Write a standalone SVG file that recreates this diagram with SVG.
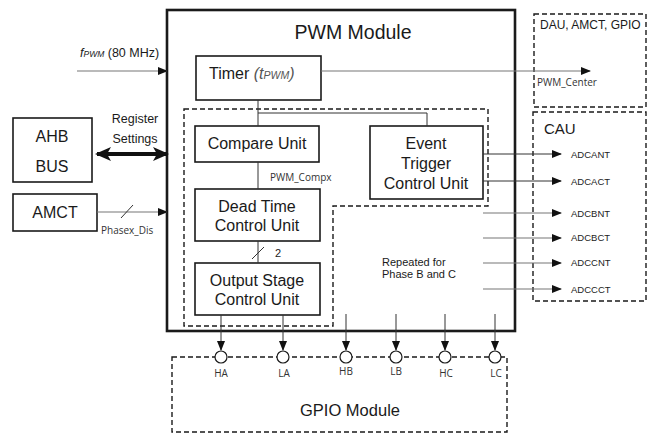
<svg xmlns="http://www.w3.org/2000/svg" width="649" height="433" viewBox="0 0 649 433">
<style>
.box{fill:#fff;stroke:#1a1a1a;stroke-width:1.6}
.dash{fill:none;stroke:#1a1a1a;stroke-width:1.4;stroke-dasharray:5,3}
.ln{fill:none;stroke:#333;stroke-width:1}
.gl{fill:none;stroke:#777;stroke-width:1.2}
.t{font-family:"Liberation Sans",Arial,sans-serif;fill:#1a1a1a}
.big{font-size:16px;text-anchor:middle}
.sm{font-family:"Open Sans","Liberation Sans",sans-serif;font-size:10px;fill:#333}
.cau{font-family:"Liberation Sans",Arial,sans-serif;font-size:9.5px;fill:#222}
</style>
<defs>
<marker id="ah" markerWidth="10" markerHeight="8" refX="9" refY="4" orient="auto" markerUnits="userSpaceOnUse">
<path d="M0,0 L10,4 L0,8 Z" fill="#111"/>
</marker>
<marker id="big" markerWidth="16" markerHeight="14" refX="14" refY="7" orient="auto-start-reverse" markerUnits="userSpaceOnUse">
<path d="M0,0 L16,7 L0,14 L4,7 Z" fill="#111"/>
</marker>
</defs>

<g id="pwm-module">
<rect x="167" y="10" width="348" height="321" fill="#fff" stroke="#1a1a1a" stroke-width="2.6"/>
<text class="t" x="353" y="39" font-size="19.5" text-anchor="middle">PWM Module</text>
</g>

<g id="inner-region">
<path class="dash" d="M184,109 H488 V206 H333 V326 H184 Z"/>
</g>

<g id="dau">
<rect class="dash" x="534" y="14" width="112" height="93"/>
<text class="t" x="540" y="29" font-size="12">DAU, AMCT, GPIO</text>
</g>

<g id="cau">
<rect class="dash" x="533" y="112" width="113" height="189"/>
<text class="t" x="544" y="134" font-size="15">CAU</text>
</g>

<g id="gpio">
<rect class="dash" x="172" y="357" width="335" height="75"/>
<text class="t" x="350" y="416" font-size="16.5" text-anchor="middle">GPIO Module</text>
</g>

<g id="ahb">
<rect class="box" x="13" y="118" width="79" height="64"/>
<text class="t big" x="52" y="142" font-size="19">AHB</text>
<text class="t big" x="52" y="172" font-size="19">BUS</text>
</g>

<g id="amct">
<rect class="box" x="13" y="194" width="84" height="37"/>
<text class="t big" x="55" y="218" font-size="17">AMCT</text>
</g>

<g id="timer">
<rect class="box" x="196" y="56" width="125" height="44"/>
<text class="t" x="209" y="79" font-size="16">Timer <tspan font-style="italic" fill="#555">(t</tspan><tspan font-style="italic" font-size="10.5" fill="#555">PWM</tspan><tspan font-style="italic" fill="#555">)</tspan></text>
</g>

<g id="compare">
<rect class="box" x="195" y="126" width="124" height="36"/>
<text class="t big" x="257" y="149">Compare Unit</text>
</g>

<g id="event">
<rect class="box" x="370" y="126" width="113" height="73"/>
<text class="t big" x="426" y="149">Event</text>
<text class="t big" x="426" y="169">Trigger</text>
<text class="t big" x="426" y="189">Control Unit</text>
</g>

<g id="deadtime">
<rect class="box" x="195" y="189" width="125" height="52"/>
<text class="t big" x="257" y="212">Dead Time</text>
<text class="t big" x="257" y="231">Control Unit</text>
</g>

<g id="output">
<rect class="box" x="195" y="263" width="125" height="52"/>
<text class="t big" x="257" y="286">Output Stage</text>
<text class="t big" x="257" y="305">Control Unit</text>
</g>

<g id="pins">
<circle cx="221" cy="357" r="6" fill="#fff" stroke="#1a1a1a" stroke-width="1.2"/>
<circle cx="283" cy="357" r="6" fill="#fff" stroke="#1a1a1a" stroke-width="1.2"/>
<circle cx="346" cy="357" r="6" fill="#fff" stroke="#1a1a1a" stroke-width="1.2"/>
<circle cx="396" cy="357" r="6" fill="#fff" stroke="#1a1a1a" stroke-width="1.2"/>
<circle cx="445" cy="357" r="6" fill="#fff" stroke="#1a1a1a" stroke-width="1.2"/>
<circle cx="495" cy="357" r="6" fill="#fff" stroke="#1a1a1a" stroke-width="1.2"/>
<text class="sm" x="221" y="377" text-anchor="middle" font-size="9">HA</text>
<text class="sm" x="284" y="377" text-anchor="middle" font-size="9">LA</text>
<text class="sm" x="346" y="375" text-anchor="middle" font-size="9">HB</text>
<text class="sm" x="396" y="375" text-anchor="middle" font-size="9">LB</text>
<text class="sm" x="446" y="377" text-anchor="middle" font-size="9">HC</text>
<text class="sm" x="496" y="377" text-anchor="middle" font-size="9">LC</text>
</g>

<g id="connectors">
<!-- fPWM -->
<line class="gl" x1="77" y1="71" x2="167" y2="71" marker-end="url(#ah)"/>
<text class="t" x="80" y="57" font-size="12.5" fill="#555"><tspan font-style="italic">f</tspan><tspan font-style="italic" font-size="8.5">PWM</tspan> (80 MHz)</text>
<!-- register settings -->
<line x1="97" y1="154" x2="167" y2="154" stroke="#111" stroke-width="4" marker-start="url(#big)" marker-end="url(#big)"/>
<text class="t" x="135" y="123" font-size="12.5" text-anchor="middle" fill="#222">Register</text>
<text class="t" x="135" y="143" font-size="12.5" text-anchor="middle" fill="#222">Settings</text>
<!-- AMCT -->
<line class="gl" x1="97" y1="212" x2="167" y2="212" marker-end="url(#ah)"/>
<line class="ln" x1="121" y1="218" x2="133" y2="205"/>
<text class="sm" x="101" y="234">Phasex_Dis</text>
<!-- timer out -->
<line class="gl" x1="321" y1="71" x2="590" y2="71" marker-end="url(#ah)"/>
<text class="sm" x="537" y="86" font-size="10.5">PWM_Center</text>
<!-- timer to compare/event -->
<line class="ln" x1="258" y1="100" x2="258" y2="126"/>
<polyline class="ln" points="258,113 427,113 427,126"/>
<!-- compare to dead time -->
<line class="ln" x1="258" y1="162" x2="258" y2="189"/>
<text class="sm" x="270" y="181">PWM_Compx</text>
<!-- dead time to output -->
<line class="ln" x1="258" y1="241" x2="258" y2="263"/>
<line class="ln" x1="252" y1="259" x2="264" y2="247"/>
<text class="t" x="275" y="257" font-size="11">2</text>
<!-- CAU arrows -->
<line class="ln" x1="483" y1="154" x2="561" y2="154" marker-end="url(#ah)"/>
<line class="ln" x1="483" y1="181" x2="561" y2="181" marker-end="url(#ah)"/>
<line class="gl" x1="483" y1="213" x2="561" y2="213" marker-end="url(#ah)"/>
<line class="gl" x1="483" y1="238" x2="561" y2="238" marker-end="url(#ah)"/>
<line class="gl" x1="483" y1="263" x2="561" y2="263" marker-end="url(#ah)"/>
<line class="gl" x1="483" y1="289" x2="561" y2="289" marker-end="url(#ah)"/>
<text class="cau" x="571" y="158">ADCANT</text>
<text class="cau" x="571" y="185">ADCACT</text>
<text class="cau" x="571" y="217">ADCBNT</text>
<text class="cau" x="571" y="241">ADCBCT</text>
<text class="cau" x="571" y="266">ADCCNT</text>
<text class="cau" x="571" y="293">ADCCCT</text>
<text class="t" x="382" y="266" font-size="11">Repeated for</text>
<text class="t" x="382" y="278" font-size="11">Phase B and C</text>
<!-- outputs to pins -->
<line class="ln" x1="221" y1="315" x2="221" y2="350" marker-end="url(#ah)"/>
<line class="ln" x1="283" y1="315" x2="283" y2="350" marker-end="url(#ah)"/>
<line class="ln" x1="346" y1="314" x2="346" y2="350" marker-end="url(#ah)"/>
<line class="ln" x1="396" y1="314" x2="396" y2="350" marker-end="url(#ah)"/>
<line class="ln" x1="445" y1="314" x2="445" y2="350" marker-end="url(#ah)"/>
<line class="ln" x1="495" y1="314" x2="495" y2="350" marker-end="url(#ah)"/>
</g>
</svg>
